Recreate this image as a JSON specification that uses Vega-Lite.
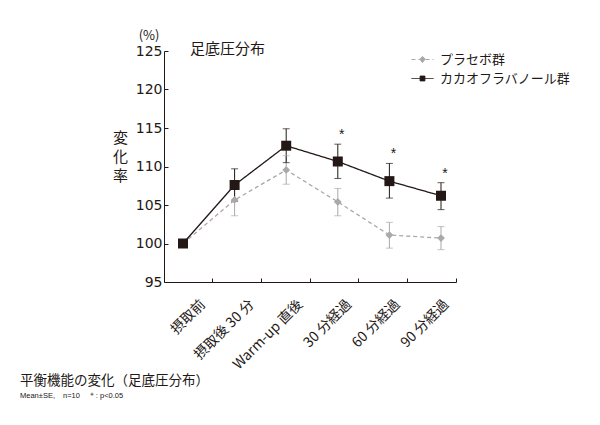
{
  "$schema": "https://vega.github.io/schema/vega-lite/v6.json",
  "autosize": {"type": "none"},
  "padding": {"left": 164, "top": 51, "right": 144, "bottom": 143},
  "width": 292,
  "height": 231,
  "background": "white",
  "config": {
    "view": {"stroke": null},
    "font": "Noto Sans CJK JP",
    "axis": {"domainColor": "#231815", "tickColor": "#231815", "labelColor": "#231815", "titleColor": "#231815", "grid": false, "titleFontWeight": "normal", "labelFontWeight": "normal"},
    "axisY": {"labelOverlap": false, "labelFont": "DejaVu Sans", "labelFontSize": 14}
  },
  "title": {
    "text": "平衡機能の変化（足底圧分布）",
    "subtitle": "Mean±SE,　n=10　＊: p<0.05",
    "orient": "bottom",
    "anchor": "start",
    "frame": "group",
    "dx": -144,
    "dy": -9,
    "offset": 11,
    "font": "Noto Sans CJK JP",
    "fontSize": 13.5,
    "fontWeight": "normal",
    "color": "#231815",
    "subtitleFont": "Liberation Sans",
    "subtitleFontSize": 7.5,
    "subtitleColor": "#231815",
    "subtitlePadding": 5
  },
  "data": {
    "values": [
      {"time": "摂取前", "group": "プラセボ群", "mean": 100, "lower": 100, "upper": 100, "sig": ""},
      {"time": "摂取後 30 分", "group": "プラセボ群", "mean": 105.65, "lower": 103.6, "upper": 107.7, "sig": ""},
      {"time": "Warm-up 直後", "group": "プラセボ群", "mean": 109.55, "lower": 107.7, "upper": 111.4, "sig": ""},
      {"time": "30 分経過", "group": "プラセボ群", "mean": 105.4, "lower": 103.6, "upper": 107.15, "sig": ""},
      {"time": "60 分経過", "group": "プラセボ群", "mean": 101.1, "lower": 99.4, "upper": 102.75, "sig": ""},
      {"time": "90 分経過", "group": "プラセボ群", "mean": 100.7, "lower": 99.2, "upper": 102.2, "sig": ""},
      {"time": "摂取前", "group": "カカオフラバノール群", "mean": 100, "lower": 100, "upper": 100, "sig": ""},
      {"time": "摂取後 30 分", "group": "カカオフラバノール群", "mean": 107.6, "lower": 105.5, "upper": 109.7, "sig": ""},
      {"time": "Warm-up 直後", "group": "カカオフラバノール群", "mean": 112.7, "lower": 110.5, "upper": 114.9, "sig": ""},
      {"time": "30 分経過", "group": "カカオフラバノール群", "mean": 110.65, "lower": 108.45, "upper": 112.9, "sig": "*"},
      {"time": "60 分経過", "group": "カカオフラバノール群", "mean": 108.1, "lower": 105.9, "upper": 110.4, "sig": "*"},
      {"time": "90 分経過", "group": "カカオフラバノール群", "mean": 106.2, "lower": 104.4, "upper": 107.9, "sig": "*"}
    ]
  },
  "layer": [
    {
      "encoding": {
        "x": {"field": "time", "type": "nominal", "axis": null,
              "scale": {"type": "point", "domain": ["摂取前", "摂取後 30 分", "Warm-up 直後", "30 分経過", "60 分経過", "90 分経過"], "range": [19, 277], "padding": 0}},
        "y": {"field": "mean", "type": "quantitative",
              "scale": {"domain": [95, 125], "nice": false, "zero": false},
              "axis": {"values": [95, 100, 105, 110, 115, 120, 125], "labelOverlap": false, "tickSize": -4, "labelPadding": 6,
                       "title": ["変", "化", "率"], "titleAngle": 0, "titleX": -44, "titleY": 79, "titleAlign": "center", "titleBaseline": "top", "titleFontSize": 15, "titleLineHeight": 19, "titleFont": "Noto Sans CJK JP"}},
        "color": {"field": "group", "type": "nominal",
                  "scale": {"domain": ["プラセボ群", "カカオフラバノール群"], "range": ["#a9a9a9", "#231815"]},
                  "legend": {"title": null, "orient": "none", "legendX": 247, "legendY": -3, "padding": 0,
                             "symbolType": "M-1,0H1M-0.22,-0.22H0.22V0.22H-0.22Z", "symbolSize": 484, "symbolStrokeWidth": 1,
                             "labelFont": "Noto Sans CJK JP", "labelFontSize": 13, "labelFontWeight": "normal", "labelColor": "#231815", "labelOffset": 6, "rowPadding": -2,
                             "encode": {"symbols": {"update": {
                               "shape": {"signal": "datum.value === 'プラセボ群' ? 'M-1,0H1M0,-0.28L0.28,0L0,0.28L-0.28,0Z' : 'M-1,0H1M-0.22,-0.22H0.22V0.22H-0.22Z'"},
                               "fill": {"signal": "datum.value === 'プラセボ群' ? '#a9a9a9' : '#231815'"},
                               "stroke": {"signal": "datum.value === 'プラセボ群' ? '#a9a9a9' : '#231815'"},
                               "fillOpacity": {"value": 1},
                               "strokeOpacity": {"value": 1},
                               "opacity": {"value": 1},
                               "strokeWidth": {"value": 1},
                               "strokeDash": {"signal": "datum.value === 'プラセボ群' ? [3, 2] : [1, 0]"},
                               "size": {"value": 484}
                             }}}}}
      },
      "layer": [
        {
          "mark": {"type": "rule", "strokeWidth": 1},
          "encoding": {
            "y": {"field": "lower", "type": "quantitative"},
            "y2": {"field": "upper"}
          }
        },
        {
          "mark": {"type": "tick", "size": 7, "thickness": 1},
          "encoding": {
            "y": {"field": "upper", "type": "quantitative"}
          }
        },
        {
          "mark": {"type": "tick", "size": 7, "thickness": 1},
          "encoding": {
            "y": {"field": "lower", "type": "quantitative"}
          }
        },
        {
          "mark": {"type": "line", "strokeWidth": 1.3},
          "encoding": {
            "strokeDash": {"field": "group", "type": "nominal",
                           "scale": {"domain": ["プラセボ群", "カカオフラバノール群"], "range": [[4, 3], [1, 0]]}}
          }
        },
        {
          "transform": [{"filter": "datum.group === 'プラセボ群'"}],
          "mark": {"type": "point", "filled": true, "opacity": 1, "shape": "diamond", "size": 60}
        },
        {
          "transform": [{"filter": "datum.group === 'カカオフラバノール群'"}],
          "mark": {"type": "point", "filled": true, "opacity": 1, "shape": "square", "size": 100}
        },
        {
          "mark": {"type": "text", "fontSize": 14, "dx": 4, "dy": -5, "baseline": "alphabetic", "font": "Liberation Sans", "fontWeight": "normal"},
          "encoding": {
            "y": {"field": "upper", "type": "quantitative"},
            "text": {"field": "sig"}
          }
        },
        {
          "data": {"values": [{"label": "足底圧分布", "time": "摂取後 30 分", "v": 125}]},
          "mark": {"type": "text", "fontSize": 15, "fontWeight": "normal", "font": "Noto Sans CJK JP", "dx": -7, "dy": -2, "baseline": "middle", "align": "center", "color": "#231815"},
          "encoding": {
            "y": {"field": "v", "type": "quantitative"},
            "color": {"value": "#231815"},
            "text": {"field": "label"}
          }
        },
        {
          "data": {"values": [{"label": "(%)", "time": "摂取前", "v": 125}]},
          "mark": {"type": "text", "fontSize": 13, "fontWeight": "normal", "font": "Noto Sans CJK JP", "dx": -34, "dy": -15, "baseline": "middle", "align": "center", "color": "#231815"},
          "encoding": {
            "y": {"field": "v", "type": "quantitative"},
            "color": {"value": "#231815"},
            "text": {"field": "label"}
          }
        }
      ]
    },
    {
      "mark": {"type": "point", "opacity": 0},
      "encoding": {
        "x": {"field": "time", "type": "nominal",
              "scale": {"type": "band", "domain": ["摂取前", "摂取後 30 分", "Warm-up 直後", "30 分経過", "60 分経過", "90 分経過"], "paddingInner": 0, "paddingOuter": 0},
              "axis": {"title": null, "orient": "bottom", "bandPosition": 1, "tickSize": -4, "labelAngle": -45, "labelPadding": 19, "labelOffset": 10, "labelFont": "Noto Sans CJK JP", "labelFontSize": 14, "labelOverlap": false}}
      }
    }
  ],
  "resolve": {"scale": {"x": "independent"}}
}
